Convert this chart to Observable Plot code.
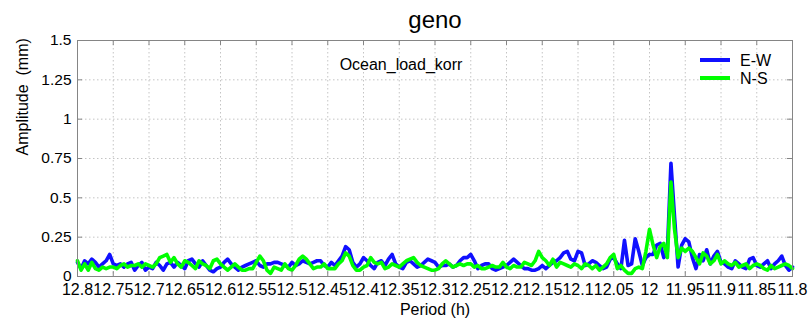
<!DOCTYPE html>
<html>
<head>
<meta charset="utf-8">
<script src="https://cdn.jsdelivr.net/npm/d3@7"></script>
<script src="https://cdn.jsdelivr.net/npm/@observablehq/plot@0.6"></script>
<style>
  html, body { margin: 0; padding: 0; background: #fff; }
  #wrap { position: relative; width: 810px; height: 321px; font-family: "Liberation Sans", Arial, sans-serif; }
  .key { position: absolute; left: 700px; width: 30px; height: 4px; }
  .keylabel { position: absolute; left: 740px; font-size: 16px; line-height: 18px; color: #000; }
</style>
</head>
<body>
<div id="wrap">
  <div class="key" style="top:58px;background:#1010ff"></div>
  <div class="keylabel" style="top:52px">E-W</div>
  <div class="key" style="top:76px;background:#00ff00"></div>
  <div class="keylabel" style="top:70px">N-S</div>
</div>
<script>
// Spectral amplitude (mm) sampled every 0.005 h from 12.8 h down to 11.8 h
const startPeriod = 12.8;
const periodStep = 0.005;

// East-West component
const ew = [
  0.09,0.05,0.10,0.08,0.11,0.09,0.06,0.08,0.10,0.14,0.08,
  0.07,0.08,0.06,0.08,0.09,0.04,0.07,0.09,0.04,0.06,
  0.05,0.09,0.07,0.04,0.08,0.09,0.06,0.09,0.07,0.05,
  0.10,0.11,0.08,0.06,0.10,0.07,0.04,0.03,0.05,0.06,
  0.09,0.11,0.08,0.06,0.04,0.06,0.07,0.08,0.09,0.10,
  0.07,0.06,0.08,0.08,0.09,0.09,0.08,0.07,0.06,0.09,
  0.07,0.08,0.10,0.09,0.08,0.09,0.10,0.10,0.07,0.06,
  0.09,0.07,0.10,0.13,0.19,0.17,0.09,0.06,0.08,0.12,
  0.10,0.07,0.05,0.09,0.10,0.07,0.11,0.14,0.08,0.06,
  0.05,0.09,0.10,0.08,0.06,0.07,0.09,0.11,0.10,0.09,
  0.06,0.07,0.07,0.08,0.06,0.07,0.10,0.12,0.12,0.14,
  0.10,0.05,0.07,0.08,0.08,0.05,0.04,0.05,0.06,0.07,
  0.09,0.11,0.09,0.07,0.05,0.05,0.04,0.04,0.05,0.07,
  0.05,0.07,0.09,0.10,0.12,0.15,0.16,0.11,0.10,0.16,
  0.15,0.07,0.08,0.10,0.09,0.07,0.05,0.06,0.11,0.12,
  0.08,0.05,0.23,0.07,0.08,0.24,0.16,0.07,0.12,0.14,
  0.14,0.20,0.21,0.12,0.16,0.72,0.38,0.06,0.20,0.24,
  0.22,0.12,0.05,0.14,0.10,0.17,0.08,0.13,0.16,0.09,
  0.08,0.06,0.05,0.10,0.08,0.06,0.05,0.11,0.12,0.07,
  0.06,0.08,0.10,0.05,0.08,0.10,0.13,0.07,0.04,0.06
];

// North-South component
const ns = [
  0.10,0.04,0.08,0.04,0.09,0.05,0.04,0.06,0.05,0.06,0.06,
  0.05,0.07,0.08,0.06,0.07,0.07,0.08,0.06,0.08,0.07,
  0.06,0.08,0.12,0.13,0.14,0.09,0.12,0.08,0.06,0.10,
  0.09,0.07,0.05,0.10,0.08,0.07,0.05,0.10,0.11,0.08,
  0.06,0.04,0.06,0.08,0.06,0.04,0.04,0.05,0.05,0.09,
  0.13,0.10,0.04,0.02,0.06,0.05,0.04,0.08,0.05,0.04,
  0.07,0.11,0.13,0.11,0.08,0.05,0.06,0.06,0.08,0.05,
  0.05,0.05,0.08,0.10,0.15,0.13,0.07,0.04,0.04,0.06,
  0.07,0.12,0.09,0.08,0.09,0.05,0.06,0.08,0.07,0.06,
  0.08,0.10,0.11,0.12,0.09,0.07,0.06,0.05,0.04,0.04,
  0.05,0.08,0.10,0.08,0.06,0.07,0.08,0.07,0.08,0.08,
  0.06,0.07,0.05,0.05,0.06,0.07,0.06,0.06,0.09,0.06,
  0.05,0.07,0.06,0.06,0.09,0.08,0.07,0.10,0.16,0.12,
  0.10,0.07,0.11,0.06,0.09,0.08,0.07,0.06,0.08,0.07,
  0.05,0.08,0.07,0.05,0.07,0.04,0.06,0.08,0.12,0.14,
  0.05,0.07,0.04,0.02,0.02,0.05,0.06,0.05,0.16,0.30,
  0.20,0.12,0.19,0.21,0.12,0.60,0.30,0.12,0.18,0.16,
  0.18,0.16,0.12,0.08,0.15,0.13,0.08,0.10,0.14,0.08,
  0.10,0.08,0.07,0.09,0.06,0.07,0.08,0.05,0.07,0.08,
  0.07,0.05,0.04,0.07,0.05,0.06,0.07,0.08,0.07,0.05
];

const xTicks = [12.8,12.75,12.7,12.65,12.6,12.55,12.5,12.45,12.4,12.35,12.3,12.25,12.2,12.15,12.1,12.05,12,11.95,11.9,11.85,11.8];
const yTicks = [0,0.25,0.5,0.75,1,1.25,1.5];

const rows = ew.map((v, i) => ({
  period: +(startPeriod - periodStep * i).toFixed(3),
  ew: v,
  ns: ns[i]
}));

const frameColor = "#858585";
const gridStyle = {stroke: "#c4c4c4", strokeOpacity: 1, strokeDasharray: "1.5,2.5"};
const fmt = d => String(+d.toFixed(2));

const chart = Plot.plot({
  width: 810,
  height: 321,
  marginLeft: 77,
  marginRight: 18,
  marginTop: 40,
  marginBottom: 45,
  style: {fontFamily: "'Liberation Sans', Arial, sans-serif", fontSize: "15px", background: "transparent", color: "#000"},
  x: {domain: [12.8, 11.8], axis: null},
  y: {domain: [0, 1.5], axis: null},
  marks: [
    Plot.gridX(xTicks.slice(1, -1), gridStyle),
    Plot.gridY(yTicks.slice(1, -1), gridStyle),
    Plot.line(rows, {x: "period", y: "ew", stroke: "#1010ff", strokeWidth: 3.6, strokeLinejoin: "round"}),
    Plot.line(rows, {x: "period", y: "ns", stroke: "#00ff00", strokeWidth: 3.6, strokeLinejoin: "round"}),
    Plot.frame({stroke: frameColor}),
    // inward tick marks on all four sides
    Plot.tickX(xTicks, {x: d => d, insetTop: 231, stroke: frameColor}),
    Plot.tickX(xTicks, {x: d => d, insetBottom: 231, stroke: frameColor}),
    Plot.tickY(yTicks, {y: d => d, insetRight: 710, stroke: frameColor}),
    Plot.tickY(yTicks, {y: d => d, insetLeft: 710, stroke: frameColor}),
    Plot.axisX(xTicks, {anchor: "bottom", tickSize: 0, tickPadding: 7, tickFormat: fmt, label: null, fontSize: 16}),
    Plot.axisY(yTicks, {anchor: "left", tickSize: 0, tickPadding: 6, tickFormat: fmt, label: null, fontSize: 15.5}),
    Plot.text(["geno"], {text: d => d, frameAnchor: "top", lineAnchor: "middle", dy: -20, fontSize: 24}),
    Plot.text(["Ocean_load_korr"], {text: d => d, frameAnchor: "top", lineAnchor: "middle", dx: -34, dy: 24, fontSize: 16}),
    Plot.text(["Period (h)"], {text: d => d, frameAnchor: "bottom", lineAnchor: "middle", dy: 33, fontSize: 16}),
    Plot.text(["Amplitude\u00a0 (mm)"], {text: d => d, frameAnchor: "left", lineAnchor: "middle", dx: -55, dy: -3, rotate: -90, fontSize: 16})
  ]
});

document.getElementById("wrap").prepend(chart);
chart.style.position = "absolute";
chart.style.left = "0";
chart.style.top = "0";
</script>
</body>
</html>
